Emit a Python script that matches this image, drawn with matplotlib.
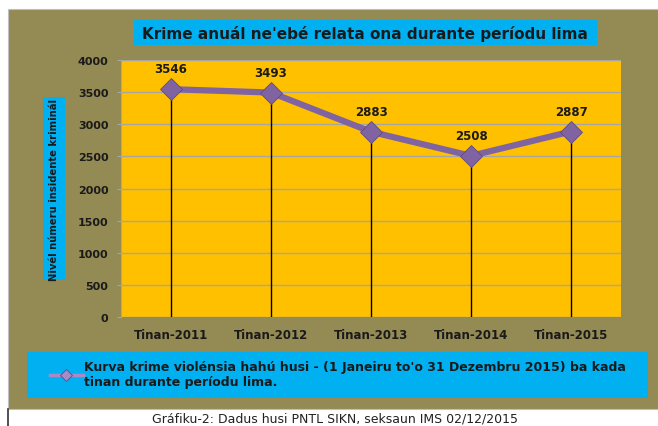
import matplotlib.pyplot as plt
from matplotlib.patches import Rectangle
from matplotlib.lines import Line2D

# data
years = ['Tinan-2011', 'Tinan-2012', 'Tinan-2013', 'Tinan-2014', 'Tinan-2015']
crimes = [3546, 3493, 2883, 2508, 2887]
yticks = [0, 500, 1000, 1500, 2000, 2500, 3000, 3500, 4000]

W, H = 658, 427
OLIVE = '#948A54'
GOLD = '#FFC000'
CYAN = '#00B0F0'
PURPLE = '#8064A2'


def fx(px):
    return px / W


def fy(py):
    return 1 - py / H


plt.rcParams['font.family'] = ['DejaVu Sans']
plt.rcParams['font.weight'] = 'bold'

fig = plt.figure(figsize=(W / 100, H / 100), dpi=100)
fig.patch.set_facecolor('white')

# olive chart panel and the cyan boxes behind title / legend
fig.patches.append(Rectangle((fx(8), fy(410)), fx(650), 400 / H, transform=fig.transFigure,
                             facecolor=OLIVE, edgecolor='#BFBFBF', lw=0.8, zorder=0))
fig.patches.append(Rectangle((fx(134), fy(46)), fx(463), 25 / H, transform=fig.transFigure,
                             facecolor=CYAN, edgecolor='none', zorder=1))
fig.patches.append(Rectangle((fx(27), fy(399)), fx(621), 46 / H, transform=fig.transFigure,
                             facecolor=CYAN, edgecolor='none', zorder=1))
fig.patches.append(Rectangle((fx(43), fy(281)), fx(22), 183 / H, transform=fig.transFigure,
                             facecolor=CYAN, edgecolor='none', zorder=1))
# left document rule under the panel
fig.lines.append(Line2D([fx(8), fx(8)], [0, fy(410)], transform=fig.transFigure,
                        color='#333333', lw=1.2))

fig.text(fx(365), fy(33.5), "Krime anuál ne'ebé relata ona durante períodu lima",
         ha='center', va='center', fontsize=11, color='#1a1a1a', zorder=3)
fig.text(fx(54), fy(190), 'Nivél númeru insidente kriminál', rotation=90,
         ha='center', va='center', fontsize=7.2, color='#1a1a1a', zorder=3)
fig.text(fx(335), fy(419), 'Gráfiku-2: Dadus husi PNTL SIKN, seksaun IMS 02/12/2015',
         ha='center', va='center', fontsize=9, fontweight='normal', color='#222222')

ax = fig.add_axes([fx(121), fy(318), fx(500), (318 - 61) / H])
ax.set_zorder(5)
ax.set_facecolor(GOLD)
x = list(range(len(years)))

ax.vlines(x, 0, crimes, color='black', lw=1, zorder=2)
ax.plot(x, crimes, color=PURPLE, lw=4.5, marker='D', markersize=11,
        markerfacecolor=PURPLE, markeredgecolor='#5f4a80', markeredgewidth=0.6,
        zorder=3, label="Kurva krime violénsia hahú husi - (1 Janeiru to'o 31 Dezembru 2015) ba kada\ntinan durante períodu lima.")
for xi, v in zip(x, crimes):
    ax.annotate(str(v), (xi, v), xytext=(0, 10), textcoords='offset points',
                ha='center', va='bottom', fontsize=8.5, color='#1a1a1a')

ax.set_xlim(-0.5, len(years) - 0.5)
ax.set_ylim(0, 4000)
ax.set_yticks(yticks)
ax.set_xticks(x)
ax.set_xticklabels(years)
ax.yaxis.grid(True, color='#A6A6A6', lw=1)
ax.set_axisbelow(True)
ax.tick_params(axis='x', length=0, pad=8, labelsize=8.5, colors='#1a1a1a')
ax.tick_params(axis='y', length=3, color='#A6A6A6', pad=6, labelsize=8, colors='#1a1a1a')
for side in ['top', 'right', 'bottom']:
    ax.spines[side].set_visible(False)
ax.spines['left'].set_color('#A6A6A6')

leg = fig.legend(loc='upper left', bbox_to_anchor=(fx(50), fy(361)), frameon=False,
                 fontsize=9, handlelength=2.6, handletextpad=0.15, borderpad=0,
                 borderaxespad=0, markerscale=0.6, labelspacing=0)
leg.set_zorder(6)
for t in leg.get_texts():
    t.set_color('#1a1a1a')
for h in leg.legend_handles:
    h.set_linewidth(2.5)
    h.set_color('#A58BC8')
    h.set_markerfacecolor('#A58BC8')

fig.savefig('out.png', dpi=100)
